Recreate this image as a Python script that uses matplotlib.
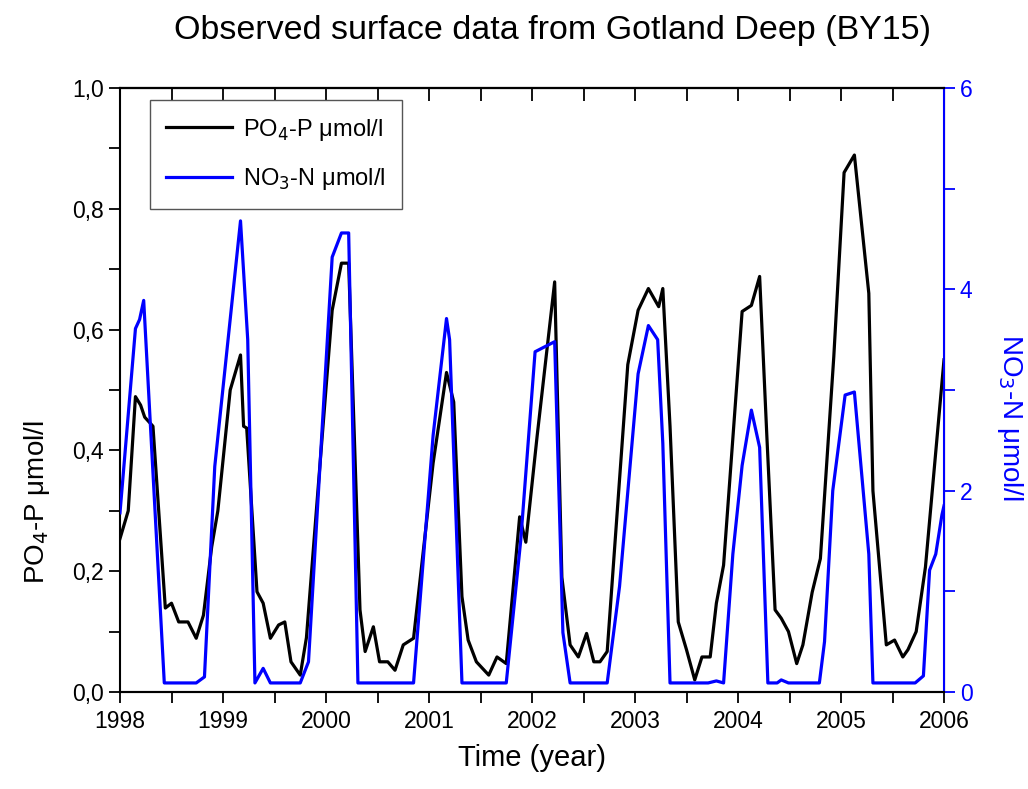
import matplotlib
matplotlib.use("Agg")
import matplotlib.pyplot as plt
from matplotlib.ticker import MultipleLocator, FuncFormatter

plt.rcParams['font.family'] = ['Liberation Sans', 'DejaVu Sans']

# ---- data ----
po4_time = [1998.00, 1998.08, 1998.15, 1998.20, 1998.24, 1998.32, 1998.44, 1998.50, 1998.57, 1998.66,
            1998.74, 1998.81, 1998.89, 1998.95, 1999.07, 1999.17, 1999.20, 1999.23, 1999.33, 1999.39,
            1999.46, 1999.54, 1999.60, 1999.66, 1999.75, 1999.81, 1999.92, 2000.06, 2000.15, 2000.22,
            2000.33, 2000.38, 2000.46, 2000.52, 2000.60, 2000.67, 2000.75, 2000.85, 2001.04, 2001.17,
            2001.24, 2001.32, 2001.38, 2001.46, 2001.58, 2001.66, 2001.75, 2001.88, 2001.94, 2002.05,
            2002.22, 2002.29, 2002.37, 2002.45, 2002.53, 2002.60, 2002.66, 2002.73, 2002.93, 2003.03,
            2003.13, 2003.23, 2003.27, 2003.34, 2003.42, 2003.50, 2003.58, 2003.65, 2003.73, 2003.79,
            2003.86, 2004.04, 2004.13, 2004.21, 2004.28, 2004.36, 2004.42, 2004.49, 2004.57, 2004.63,
            2004.72, 2004.80, 2004.93, 2005.03, 2005.13, 2005.27, 2005.31, 2005.44, 2005.52, 2005.60,
            2005.65, 2005.73, 2005.82, 2006.00]
po4_vals = [0.254, 0.30, 0.489, 0.475, 0.455, 0.44, 0.139, 0.147, 0.116, 0.116,
            0.089, 0.127, 0.24, 0.30, 0.50, 0.558, 0.44, 0.437, 0.166, 0.147,
            0.089, 0.111, 0.116, 0.05, 0.028, 0.09, 0.33, 0.632, 0.71, 0.71,
            0.136, 0.067, 0.108, 0.05, 0.05, 0.036, 0.078, 0.089, 0.379, 0.529,
            0.48, 0.158, 0.086, 0.05, 0.028, 0.058, 0.047, 0.29, 0.248, 0.424,
            0.679, 0.19, 0.078, 0.058, 0.097, 0.05, 0.05, 0.067, 0.542, 0.632,
            0.668, 0.638, 0.668, 0.44, 0.116, 0.07, 0.02, 0.058, 0.058, 0.147,
            0.21, 0.63, 0.64, 0.688, 0.424, 0.136, 0.122, 0.10, 0.047, 0.078,
            0.165, 0.221, 0.555, 0.86, 0.889, 0.66, 0.333, 0.078, 0.086, 0.058,
            0.07, 0.10, 0.207, 0.55]

no3_time = [1998.00, 1998.15, 1998.19, 1998.23, 1998.43, 1998.74, 1998.82, 1998.92, 1999.17, 1999.24,
            1999.31, 1999.39, 1999.46, 1999.75, 1999.83, 2000.06, 2000.15, 2000.22, 2000.31, 2000.85,
            2001.04, 2001.17, 2001.20, 2001.32, 2001.75, 2001.89, 2002.03, 2002.22, 2002.30, 2002.37,
            2002.73, 2002.85, 2003.03, 2003.13, 2003.22, 2003.27, 2003.34, 2003.71, 2003.79, 2003.86,
            2003.95, 2004.04, 2004.13, 2004.21, 2004.29, 2004.38, 2004.42, 2004.49, 2004.79, 2004.84,
            2004.92, 2005.04, 2005.13, 2005.27, 2005.31, 2005.72, 2005.80, 2005.86, 2005.92, 2005.98,
            2006.00]
no3_vals = [1.78, 3.61, 3.70, 3.89, 0.09, 0.09, 0.15, 2.24, 4.68, 3.5,
            0.09, 0.235, 0.09, 0.09, 0.30, 4.32, 4.56, 4.56, 0.09, 0.09,
            2.55, 3.71, 3.5, 0.09, 0.09, 1.5, 3.38, 3.48, 0.59, 0.09,
            0.09, 1.05, 3.16, 3.64, 3.5, 2.47, 0.09, 0.09, 0.11, 0.09,
            1.37, 2.25, 2.80, 2.43, 0.09, 0.09, 0.12, 0.09, 0.09, 0.5,
            2.0, 2.95, 2.98, 1.37, 0.09, 0.09, 0.16, 1.21, 1.37, 1.76,
            1.85]

title = "Observed surface data from Gotland Deep (BY15)"
xlabel = "Time (year)"
ylabel_left = "PO$_4$-P μmol/l"
ylabel_right = "NO$_3$-N μmol/l"
label_po4 = "PO$_4$-P μmol/l"
label_no3 = "NO$_3$-N μmol/l"

BLUE = "#0000ff"

fig = plt.figure(figsize=(10.28, 7.89), dpi=100)
ax = fig.add_axes([120/1028, 1-692/789, 824/1028, 604/789])
ax2 = ax.twinx()

l1, = ax.plot(po4_time, po4_vals, color='black', lw=2.3, label=label_po4, zorder=3)
l2, = ax2.plot(no3_time, no3_vals, color=BLUE, lw=2.3, label=label_no3, zorder=2)

ax.set_xlim(1998, 2006)
ax.set_ylim(0, 1.0)
ax2.set_ylim(0, 6)

ax.xaxis.set_major_locator(MultipleLocator(1))
ax.xaxis.set_minor_locator(MultipleLocator(0.5))
ax.yaxis.set_major_locator(MultipleLocator(0.2))
ax.yaxis.set_minor_locator(MultipleLocator(0.1))
ax.yaxis.set_major_formatter(FuncFormatter(lambda v, p: f"{v:.1f}".replace('.', ',')))
ax.xaxis.set_major_formatter(FuncFormatter(lambda v, p: f"{int(round(v))}"))
ax2.yaxis.set_major_locator(MultipleLocator(2))
ax2.yaxis.set_minor_locator(MultipleLocator(1))
ax2.yaxis.set_major_formatter(FuncFormatter(lambda v, p: f"{int(round(v))}"))

ax.tick_params(axis='both', which='major', direction='out', length=8, width=1.3, labelsize=16.5)
ax.tick_params(axis='both', which='minor', direction='out', length=8, width=1.3)
ax.tick_params(axis='x', pad=5)
ax.tick_params(axis='y', which='both', right=False)
ax2.tick_params(axis='y', which='major', direction='out', length=8, width=1.3, colors=BLUE, labelsize=16.5)
ax2.tick_params(axis='y', which='minor', direction='out', length=8, width=1.3, colors=BLUE)

# top ticks pointing inward
top = ax.secondary_xaxis('top')
top.xaxis.set_major_locator(MultipleLocator(1))
top.xaxis.set_minor_locator(MultipleLocator(0.5))
top.tick_params(which='both', direction='in', length=9, width=1.3, labeltop=False)
top.spines['top'].set_linewidth(1.5)

for s in ['left', 'bottom', 'top']:
    ax.spines[s].set_linewidth(1.5)
ax2.spines['right'].set_color(BLUE)
ax2.spines['right'].set_linewidth(1.5)
ax2.spines['left'].set_visible(False)
ax2.spines['top'].set_linewidth(1.5)
ax2.spines['bottom'].set_linewidth(1.5)

ax.set_xlabel(xlabel, fontsize=21, labelpad=8)
ax.set_ylabel(ylabel_left, fontsize=20)
ax.yaxis.set_label_coords(-0.082, 0.315)
ax2.set_ylabel(ylabel_right, fontsize=20, color=BLUE, rotation=270, va='center')
ax2.yaxis.set_label_coords(1.08, 0.454)

fig.text(552/1028, 1-30/789, title, ha='center', va='center', fontsize=24.5)

leg = ax.legend([l1, l2], [label_po4, label_no3], loc='upper left',
                bbox_to_anchor=(0.036, 0.98), borderaxespad=0, fontsize=17,
                fancybox=False, framealpha=1, edgecolor='#555555',
                handlelength=2.8, handletextpad=0.45, borderpad=0.7, labelspacing=1.0)
leg.get_frame().set_linewidth(1.0)
leg.set_zorder(10)

fig.savefig("out.png", dpi=100)
